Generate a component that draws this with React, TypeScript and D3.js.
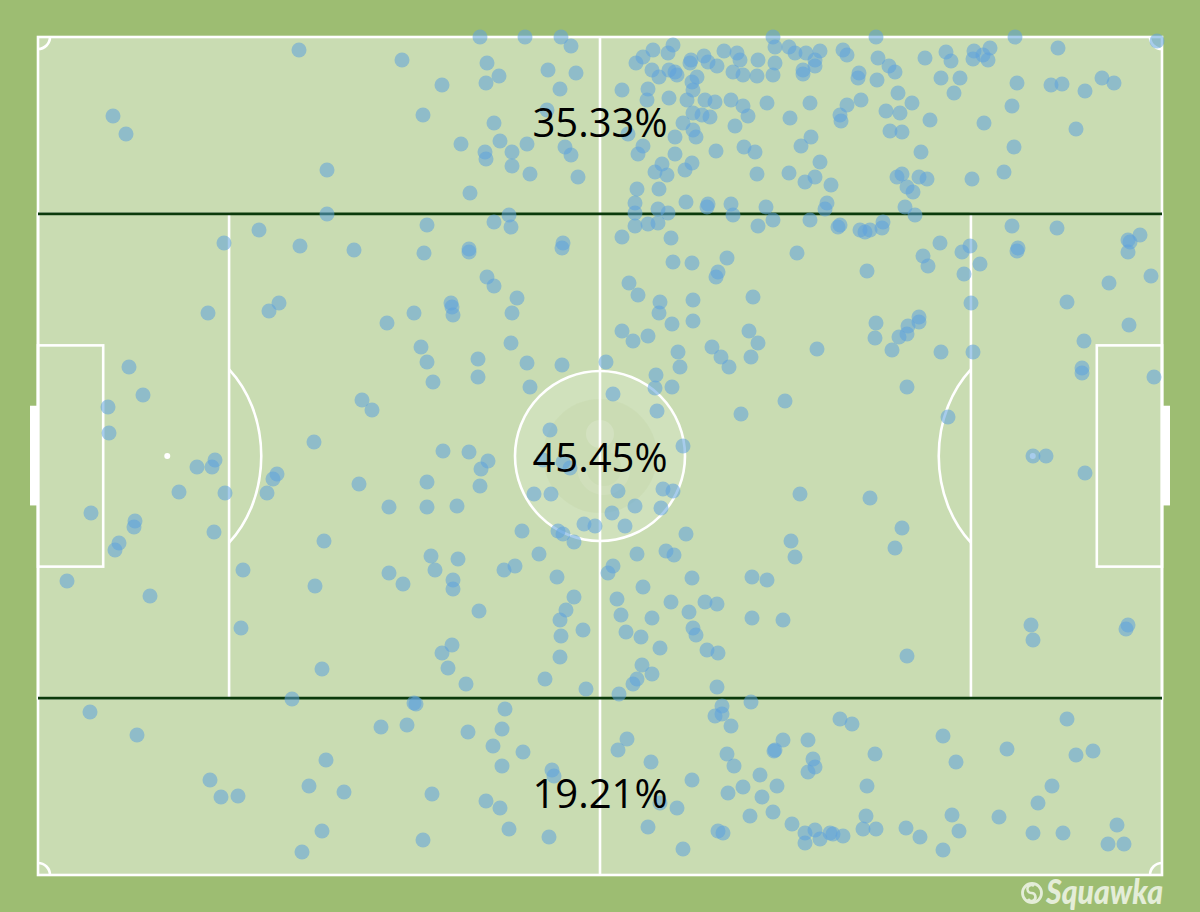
import React from "react";
import * as d3 from "d3";

// Pitch units: the pitch is PITCH_LENGTH x PITCH_WIDTH units (touchline origin top-left)
const PITCH_LENGTH = 1124;
const PITCH_WIDTH = 838;

const zoneLabels = ["35.33%", "45.45%", "19.21%"];
const zoneLabelY = [100, 435, 771]; // pitch units (baseline)
const zoneBoundsPct = [21.1, 78.9]; // Opta-style % of width

const topZone: [number, number][] = [
  [261,13],[364,23],[75,79],[88,97],[289,133],
  [442,0],[487,0],[523,0],[533,9],[449,26],[510,33],[461,39],[538,36],[404,48],[448,46],[522,52],[385,78],[456,86],[509,73],[590,97],[423,107],[462,104],[489,107],[447,115],[448,122],[474,115],[527,110],[533,118],[474,129],[492,137],[540,140],[432,156],
  [735,0],[635,8],[615,13],[598,26],[605,20],[630,16],[614,33],[621,40],[631,33],[639,38],[637,35],[652,26],[653,23],[666,19],[670,25],[679,29],[686,14],[699,16],[702,23],[695,35],[705,38],[720,23],[719,39],[737,10],[737,26],[735,38],[751,10],[757,16],
  [584,53],[610,52],[609,63],[631,61],[649,63],[655,53],[654,45],[659,40],[667,63],[677,65],[693,63],[705,69],[710,79],[729,66],[752,81],[697,89],[655,76],[664,78],[672,80],[645,86],[655,93],[658,100],[637,100],[605,109],[600,117],[637,117],[678,114],[706,110],[717,115],[624,127],[617,135],[629,138],[647,133],[654,126],[719,137],[751,136],[599,152],[621,152],[648,165],[670,167],[669,170],[693,167],[728,170],[597,166],[620,172],
  [838,0],[977,0],[1119,4],[768,16],[782,14],[805,13],[809,18],[777,23],[777,29],[765,33],[765,37],[840,21],[851,29],[857,35],[887,21],[908,15],[913,24],[936,14],[935,22],[945,18],[952,11],[950,23],[1020,11],[821,36],[820,41],[839,43],[903,41],[922,41],[979,46],[1013,48],[1024,47],[1064,41],[1076,46],[1047,54],[860,56],[916,56],[772,66],[809,68],[823,63],[874,66],[802,78],[803,84],[848,74],[862,76],[892,83],[974,69],[946,86],[1038,92],[852,94],[864,95],[773,100],[763,109],[883,115],[976,110],[782,125],[777,140],[767,145],[793,148],[859,140],[864,137],[869,150],[875,155],[881,140],[889,142],[934,142],[966,135],[789,166],[787,172],[867,170],
];

const centralZone: [number, number][] = [
  [289,177],[221,193],[186,206],[262,209],[316,213],[241,266],
  [471,178],[456,185],[473,190],[389,188],[386,216],[431,212],[431,215],[525,206],[524,211],[449,240],[456,249],[479,261],[413,266],
  [597,176],[630,176],[695,178],[597,189],[610,187],[620,186],[720,189],[735,183],[584,200],[633,201],[635,225],[654,226],[689,221],[680,235],[678,240],[715,260],[591,246],[600,258],[622,265],[655,263],
  [877,178],[772,183],[800,190],[802,188],[822,193],[827,195],[832,193],[844,191],[845,185],[902,206],[924,215],[932,209],[885,219],[890,229],[942,227],[926,237],[829,234],[759,216],[974,189],[1019,191],[980,211],[979,214],[1090,203],[1092,205],[1102,198],[1090,215],[1071,246],[1113,239],[1029,265],[933,266],
  [170,276],[231,274],[349,286],[91,330],[105,358],[70,370],[71,396],[159,430],[177,423],[174,430],[141,455],[187,456],[324,363],[334,373],[276,405],[239,437],[235,442],[229,456],[321,447],[351,470],[53,476],[97,484],[96,490],[81,506],[77,513],[176,495],[286,504],[205,533],[277,549],[351,536],[29,544],[112,559],
  [376,276],[414,270],[415,278],[474,276],[383,310],[389,325],[395,345],[440,322],[440,340],[473,306],[489,326],[492,350],[524,328],[568,325],[575,357],[512,393],[405,414],[431,415],[450,424],[443,432],[442,449],[505,423],[525,425],[532,431],[389,445],[389,470],[419,469],[496,457],[513,457],[580,454],[625,452],[635,454],[597,469],[623,471],[574,476],[587,489],[546,487],[557,489],[520,494],[525,497],[536,505],[484,494],[648,497],[645,409],[618,338],[617,351],[634,350],[619,374],[584,294],[595,304],[610,299],[634,287],[655,284],[621,276],[640,315],[642,330],[674,310],[683,320],[691,330],[711,294],[720,306],[713,320],[747,364],[703,377],[762,457],[753,504],[757,520],[599,517],[628,514],[636,518],[393,519],[397,533],[420,522],[466,533],[477,529],[501,517],[415,543],[415,552],[519,540],[575,529],[570,536],[605,550],[654,541],[714,540],[729,543],[536,560],[579,562],[633,565],[667,565],[679,567],[365,547],
  [838,286],[837,301],[861,300],[870,289],[869,297],[881,280],[881,285],[854,313],[779,312],[903,315],[935,315],[1091,288],[1046,304],[1044,331],[1044,336],[1116,340],[869,350],[910,380],[995,419],[1008,419],[1047,436],[832,461],[864,491],[857,511],
  [203,591],[284,632],
  [441,574],[522,583],[528,573],[523,599],[545,593],[522,620],[404,616],[414,608],[410,631],[428,647],[507,642],[548,652],[583,578],[614,581],[588,595],[603,600],[622,611],[651,575],[655,591],[658,598],[669,613],[680,616],[604,628],[614,637],[599,642],[595,647],[581,657],[679,650],[714,581],[745,583],
  [993,588],[995,603],[1090,588],[1088,592],[869,619],
];

const bottomZone: [number, number][] = [
  [254,662],[52,675],[99,698],[343,690],[288,723],[172,743],[183,760],[200,759],[271,749],[306,755],[284,794],[264,815],
  [376,666],[378,667],[369,688],[467,672],[464,692],[430,695],[455,709],[485,715],[464,729],[514,733],[516,739],[394,757],[448,764],[462,771],[471,792],[385,803],[511,800],
  [713,665],[684,669],[684,677],[677,679],[693,689],[589,702],[580,713],[613,725],[689,717],[696,729],[745,703],[736,714],[737,713],[722,738],[739,749],[705,750],[690,756],[724,760],[654,743],[639,771],[622,766],[712,779],[735,775],[754,787],[610,790],[680,794],[685,796],[645,812],
  [802,682],[814,687],[1029,682],[770,703],[905,699],[775,722],[777,730],[770,735],[837,717],[918,725],[969,712],[1038,718],[1055,714],[1014,749],[1000,766],[829,749],[828,779],[825,792],[838,792],[914,778],[921,794],[961,780],[868,791],[882,800],[905,813],[995,796],[1025,796],[1079,788],[1070,807],[1086,807],[767,796],[777,793],[767,806],[782,802],[792,796],[795,797],[805,799],
];

const W = 1200;
const H = 912;
const BG = "#9dbd72";
const PITCH = "#c9dcb2";
const LINE = "#ffffff";
const DOT = "#5fa2dd";

export default function App() {
  const x = d3.scaleLinear().domain([0, PITCH_LENGTH]).range([38, 1162]);
  const y = d3.scaleLinear().domain([0, PITCH_WIDTH]).range([37, 875]);
  const xp = d3.scaleLinear().domain([0, 100]).range([38, 1162]);
  const yp = d3.scaleLinear().domain([0, 100]).range([37, 875]);

  const cx = xp(50), cy = yp(50);
  const rx = 94, ry = 115;
  const leftSpot = xp(11.5), rightSpot = xp(88.5);
  const boxL = xp(17), boxR = xp(83);
  const dxL = boxL - leftSpot;
  const dyA = ry * Math.sqrt(1 - (dxL / rx) ** 2);
  const sw = 2.6;
  const corner = 12;
  const all = [...topZone, ...centralZone, ...bottomZone];

  return (
    <svg width={W} height={H} style={{ position: "absolute", left: 0, top: 0 }}>
      <rect x={0} y={0} width={W} height={H} fill={BG} />
      {/* goals */}
      <rect x={xp(0) - 8} y={yp(44)} width={8} height={yp(55.9) - yp(44)} fill={LINE} />
      <rect x={xp(100)} y={yp(44)} width={8} height={yp(55.9) - yp(44)} fill={LINE} />
      <rect x={xp(0)} y={yp(0)} width={xp(100) - xp(0)} height={yp(100) - yp(0)} fill={PITCH} stroke={LINE} strokeWidth={sw} />
      {/* watermark in centre circle */}
      <circle cx={cx} cy={cy} r={85} fill="#ffffff" opacity={0.14} />
      <circle cx={cx} cy={cy} r={57} fill="#b9cf9c" opacity={0.22} />
      <circle cx={cx} cy={cy - 22} r={14} fill="#ffffff" opacity={0.16} />
      <path d={`M ${cx - 18} ${cy + 10} a 22 22 0 1 0 30 -18`} fill="none" stroke="#ffffff" strokeWidth={9} opacity={0.1} />
      <g fill="none" stroke={LINE} strokeWidth={sw}>
        <line x1={cx} y1={yp(0)} x2={cx} y2={yp(100)} />
        <circle cx={cx} cy={cy} r={85} />
        <rect x={xp(0)} y={yp(21.1)} width={boxL - xp(0)} height={yp(78.9) - yp(21.1)} />
        <rect x={boxR} y={yp(21.1)} width={xp(100) - boxR} height={yp(78.9) - yp(21.1)} />
        <rect x={xp(0)} y={yp(36.8)} width={xp(5.8) - xp(0)} height={yp(63.2) - yp(36.8)} />
        <rect x={xp(94.2)} y={yp(36.8)} width={xp(100) - xp(94.2)} height={yp(63.2) - yp(36.8)} />
        <path d={`M ${boxL} ${cy - dyA} A ${rx} ${ry} 0 0 1 ${boxL} ${cy + dyA}`} />
        <path d={`M ${boxR} ${cy - dyA} A ${rx} ${ry} 0 0 0 ${boxR} ${cy + dyA}`} />
        <path d={`M ${xp(0)} ${yp(0) + corner} A ${corner} ${corner} 0 0 0 ${xp(0) + corner} ${yp(0)}`} />
        <path d={`M ${xp(100) - corner} ${yp(0)} A ${corner} ${corner} 0 0 0 ${xp(100)} ${yp(0) + corner}`} />
        <path d={`M ${xp(0) + corner} ${yp(100)} A ${corner} ${corner} 0 0 0 ${xp(0)} ${yp(100) - corner}`} />
        <path d={`M ${xp(100)} ${yp(100) - corner} A ${corner} ${corner} 0 0 0 ${xp(100) - corner} ${yp(100)}`} />
      </g>
      <circle cx={leftSpot} cy={cy} r={3} fill={LINE} />
      <circle cx={rightSpot} cy={cy} r={3} fill={LINE} />
      {zoneBoundsPct.map((b, i) => (
        <line key={i} x1={xp(0)} x2={xp(100)} y1={yp(b)} y2={yp(b)} stroke="#0b3a0b" strokeWidth={2.8} />
      ))}
      <g fill={DOT} fillOpacity={0.55}>
        {all.map((d, i) => (
          <circle key={i} cx={x(d[0])} cy={y(d[1])} r={7.5} />
        ))}
      </g>
      <g fontFamily="'Open Sans', sans-serif" fontSize={40} textAnchor="middle" fill="#000">
        {zoneLabels.map((t, i) => (
          <text key={i} x={cx} y={y(zoneLabelY[i])}>{t}</text>
        ))}
      </g>
      <g fill="#e4edd8" stroke="none">
        <circle cx={1032} cy={893} r={9.5} fill="none" stroke="#e4edd8" strokeWidth={2.8} />
        <path d="M 1034 886 a 4 4 0 1 0 -3 7 a 4 4 0 1 1 -3 6" fill="none" stroke="#e4edd8" strokeWidth={2.6} />
        <text x={1046} y={904} fontFamily="Lato, sans-serif" fontStyle="italic" fontWeight={900} fontSize={35} textLength={117} lengthAdjust="spacingAndGlyphs">Squawka</text>
      </g>
    </svg>
  );
}
